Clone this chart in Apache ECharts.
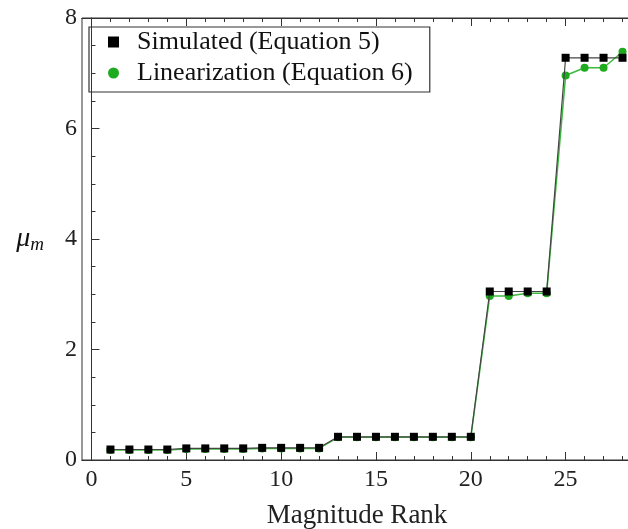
<!DOCTYPE html>
<html>
<head>
<meta charset="utf-8">
<script src="https://cdn.jsdelivr.net/npm/echarts@6/dist/echarts.min.js"></script>
<style>
  html, body { margin: 0; padding: 0; background: #fff; overflow: hidden; }
  /* slightly wider than the window: the right frame edge is cut off in the original */
  #chart { width: 632px; height: 529px; }
</style>
</head>
<body>
<div id="chart"></div>
<script>
  // magnitude rank 1..28
  var ranks = [1,2,3,4,5,6,7,8,9,10,11,12,13,14,15,16,17,18,19,20,21,22,23,24,25,26,27,28];
  var simulated = [0.19,0.19,0.19,0.19,0.21,0.21,0.21,0.21,0.22,0.22,0.22,0.22,
                   0.42,0.42,0.42,0.42,0.42,0.42,0.42,0.42,
                   3.05,3.05,3.05,3.05,7.28,7.28,7.28,7.28];
  var linearized = [0.18,0.18,0.18,0.18,0.2,0.2,0.2,0.2,0.21,0.21,0.21,0.21,
                    0.41,0.41,0.41,0.41,0.41,0.41,0.41,0.41,
                    2.97,2.97,3.02,3.02,6.96,7.1,7.1,7.39];
  var xMajor = [0,5,10,15,20,25];
  var xMinor = [1,2,3,4,6,7,8,9,11,12,13,14,16,17,18,19,21,22,23,24,26,27,28];

  function pairs(ys) {
    return ranks.map(function (r, i) { return [r, ys[i]]; });
  }

  var serif = 'Liberation Serif';
  var chart = echarts.init(document.getElementById('chart'));

  function xAxisBase(pos, ticks, len, labels) {
    return {
      type: 'value', position: pos, min: -0.5, max: 28.5,
      axisLine: { show: true, lineStyle: { color: '#333', width: 1 } },
      axisTick: { show: true, inside: true, length: len, customValues: ticks,
                  lineStyle: { color: '#333', width: 1 } },
      axisLabel: labels ? { show: true, customValues: ticks, color: '#222',
                            fontFamily: serif, fontSize: 24, margin: 8 } : { show: false },
      splitLine: { show: false }
    };
  }

  var xMain = xAxisBase('bottom', xMajor, 8, true);
  xMain.name = 'Magnitude Rank';
  xMain.nameLocation = 'middle';
  xMain.nameGap = 42;
  xMain.nameTextStyle = { fontFamily: serif, fontSize: 27, color: '#222' };

  chart.setOption({
    animation: false,
    backgroundColor: '#fff',
    grid: { left: 82, top: 18, right: 0, bottom: 69, containLabel: false, outerBoundsMode: 'none',
            show: true, borderColor: '#333', borderWidth: 1 },
    legend: {
      left: 89, top: 27, orient: 'vertical',
      borderColor: '#333', borderWidth: 1.2,
      padding: [0, 17, 4, 19], itemGap: 1,
      itemWidth: 11, itemHeight: 11,
      textStyle: { fontFamily: serif, fontSize: 26, color: '#111', lineHeight: 30,
                   padding: [0, 0, 0, 13] },
      data: [
        { name: 'Simulated (Equation 5)', icon: 'rect' },
        { name: 'Linearization (Equation 6)', icon: 'circle' }
      ]
    },
    xAxis: [
      xMain,
      xAxisBase('bottom', xMinor, 4, false),
      xAxisBase('top', xMajor, 8, false),
      xAxisBase('top', xMinor, 4, false)
    ],
    yAxis: {
      type: 'value', min: 0, max: 8, interval: 2,
      name: '{a|μ}{b|m}',
      nameLocation: 'middle', nameRotate: 0, nameGap: 38,
      nameTextStyle: {
        rich: {
          a: { fontFamily: serif, fontStyle: 'italic', fontSize: 28, color: '#111' },
          b: { fontFamily: serif, fontStyle: 'italic', fontSize: 19, color: '#111', padding: [12, 0, 0, 0] }
        }
      },
      axisLine: { show: true, lineStyle: { color: '#333', width: 1 } },
      axisTick: { show: true, inside: true, length: 8, lineStyle: { color: '#333' } },
      minorTick: { show: true, splitNumber: 4, length: 4, lineStyle: { color: '#333' } },
      axisLabel: { color: '#222', fontFamily: serif, fontSize: 24, margin: 5 },
      splitLine: { show: false }
    },
    series: [
      {
        name: 'Linearization (Equation 6)', type: 'line', data: pairs(linearized),
        symbol: 'circle', symbolSize: 8,
        itemStyle: { color: '#1faa1f' },
        lineStyle: { color: '#3dba3d', width: 1.5 },
        z: 2
      },
      {
        name: 'Simulated (Equation 5)', type: 'line', data: pairs(simulated),
        symbol: 'rect', symbolSize: 8,
        itemStyle: { color: '#000' },
        lineStyle: { color: '#444', width: 1.2 },
        z: 3
      }
    ]
  });
</script>
</body>
</html>
